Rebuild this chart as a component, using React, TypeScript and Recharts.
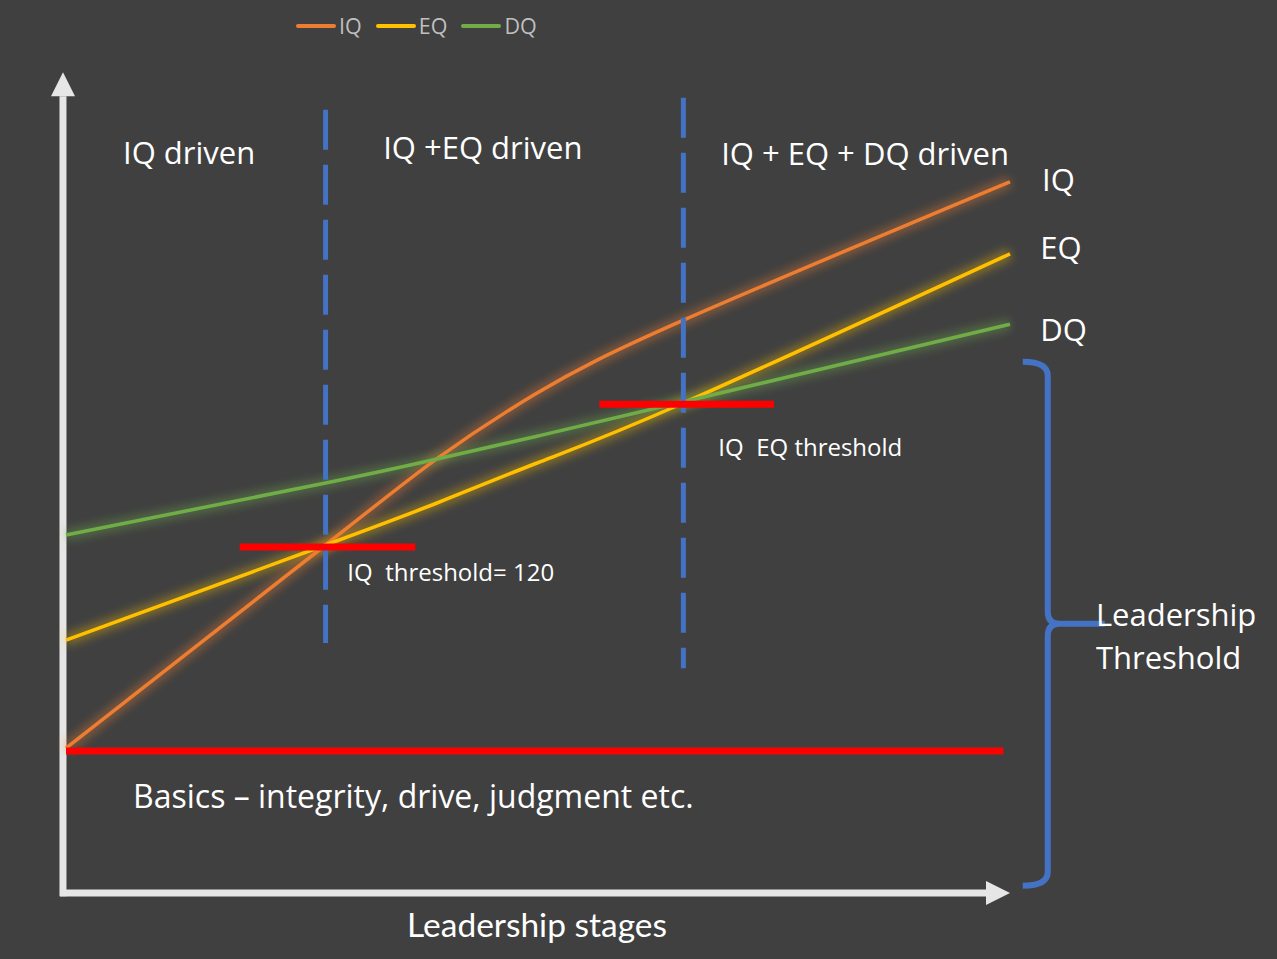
import { LineChart, Line, XAxis, YAxis, ReferenceLine, ReferenceDot, Legend } from "recharts";

// stage positions along the x axis (0 = start, 100 = end of the arrow)
const stages = [0, 27.5, 39.3, 49.9, 65.4, 100];
const iqValues = [18.1, 43.5, 54.3, 62.5, 71.6, 88.9];
const eqValues = [31.6, 43.5, 48.75, 53.75, 61.25, 79.9];
const dqValues = [44.75, 51.25, 54.25, 57.1, 61.4, 71.1];

const seriesNames = ["IQ", "EQ", "DQ"];
const seriesColors = ["#ED7D31", "#FFC000", "#70AD47"];

// phase boundaries (dashed blue)
const phaseX = [27.5, 65.4];
const phaseTop = [97.9, 99.4];
const phaseBottom = [31.25, 28.1];

// red threshold bars
const thresholdStart = [18.4, 56.5];
const thresholdEnd = [37.0, 75.0];
const thresholdLevel = [43.25, 61.1];

const basicsLevel = 17.75;
const basicsEnd = 99.3;

// annotations
const noteTexts = [
  "IQ driven",
  "IQ +EQ driven",
  "IQ + EQ + DQ driven",
  "IQ",
  "EQ",
  "DQ",
  "IQ\u00A0 threshold= 120",
  "IQ\u00A0 EQ threshold",
  "Basics \u2013 integrity, drive, judgment etc.",
  "Leadership",
  "Threshold",
];
const noteX = [6.04, 33.6, 69.4, 103.4, 103.2, 103.2, 29.8, 69.1, 7.1, 109.1, 109.1];
const noteY = [92.5, 93.1, 92.4, 89.1, 80.6, 70.4, 40.1, 55.75, 12.0, 34.75, 29.4];
const noteSizes = [31, 31, 31, 31, 31, 31, 24, 24, 32, 31, 31];

const data = stages.map((s, i) => ({
  stage: s,
  IQ: iqValues[i],
  EQ: eqValues[i],
  DQ: dqValues[i],
}));

const FONT = '"Open Sans", sans-serif';
const AXIS = "#E7E6E6";
const BLUE = "#4472C4";

function arrowShape(props: any) {
  const { x1, y1, x2, y2 } = props;
  const dx = x2 - x1;
  const dy = y2 - y1;
  const len = Math.hypot(dx, dy) || 1;
  const ux = dx / len;
  const uy = dy / len;
  const head = 24;
  const half = 12;
  const bx = x2 - ux * head;
  const by = y2 - uy * head;
  const px = -uy;
  const py = ux;
  return (
    <g>
      <line x1={x1} y1={y1} x2={bx} y2={by} stroke={AXIS} strokeWidth={7} />
      <polygon
        points={`${x2},${y2} ${bx + px * half},${by + py * half} ${bx - px * half},${by - py * half}`}
        fill={AXIS}
      />
    </g>
  );
}

function braceShape(props: any) {
  const { x1, y1, y2 } = props;
  const top = Math.min(y1, y2);
  const bot = Math.max(y1, y2);
  const mid = (top + bot) / 2;
  const d =
    `M ${x1 - 25} ${top} Q ${x1} ${top} ${x1} ${top + 14} L ${x1} ${mid - 12} ` +
    `Q ${x1} ${mid} ${x1 + 12} ${mid} L ${x1 + 57} ${mid} M ${x1 + 12} ${mid} ` +
    `Q ${x1} ${mid} ${x1} ${mid + 12} L ${x1} ${bot - 14} Q ${x1} ${bot} ${x1 - 25} ${bot}`;
  return <path d={d} fill="none" stroke={BLUE} strokeWidth={6} />;
}

function LegendContent(props: any) {
  const items = (props.payload || [])
    .filter((p: any) => p.type !== "none")
    .sort((a: any, b: any) => seriesNames.indexOf(a.value) - seriesNames.indexOf(b.value));
  return (
    <div style={{ display: "flex", alignItems: "center", fontFamily: FONT, fontSize: 21.5, color: "#BFBFBF" }}>
      {items.map((p: any) => (
        <div key={p.value} style={{ display: "flex", alignItems: "center", marginRight: 14 }}>
          <span style={{ display: "inline-block", width: 40, height: 4, borderRadius: 2, background: p.color, marginRight: 3 }} />
          <span>{p.value}</span>
        </div>
      ))}
    </div>
  );
}

export default function App() {
  return (
    <div style={{ position: "absolute", left: 0, top: 0, width: 1277, height: 959, background: "#404040", overflow: "hidden" }}>
      <LineChart width={1277} height={959} data={data} margin={{ top: 93, right: 267, bottom: 66, left: 66 }}>
        <defs>
          <filter id="glow" x="-20%" y="-20%" width="140%" height="140%">
            <feGaussianBlur stdDeviation="4" />
          </filter>
        </defs>
        <XAxis dataKey="stage" type="number" domain={[0, 100]} hide />
        <YAxis type="number" domain={[0, 100]} hide />
        <Legend
          verticalAlign="middle"
          align="center"
          layout="horizontal"
          wrapperStyle={{ top: 11, left: 296, width: 320 }}
          content={<LegendContent />}
        />

        {/* axes as arrows */}
        <ReferenceLine segment={[{ x: -0.32, y: -0.4 }, { x: -0.32, y: 102.6 }]} ifOverflow="visible" shape={arrowShape} />
        <ReferenceLine segment={[{ x: -0.64, y: 0 }, { x: 100, y: 0 }]} ifOverflow="visible" shape={arrowShape} />

        {/* glow under the curves */}
        {seriesNames.map((name, i) => (
          <Line
            key={`glow-${name}`}
            type="natural"
            dataKey={name}
            stroke={seriesColors[i]}
            strokeWidth={12}
            strokeOpacity={0.35}
            filter="url(#glow)"
            dot={false}
            activeDot={false}
            legendType="none"
            isAnimationActive={false}
          />
        ))}
        {seriesNames.map((name, i) => (
          <Line
            key={name}
            type="natural"
            dataKey={name}
            name={name}
            stroke={seriesColors[i]}
            strokeWidth={3.5}
            dot={false}
            activeDot={false}
            isAnimationActive={false}
          />
        ))}

        {phaseX.map((x, i) => (
          <ReferenceLine
            key={`phase-${i}`}
            segment={[{ x, y: phaseTop[i] }, { x, y: phaseBottom[i] }]}
            stroke={BLUE}
            strokeWidth={5}
            strokeDasharray="40 15"
            ifOverflow="visible"
          />
        ))}

        {thresholdLevel.map((y, i) => (
          <ReferenceLine
            key={`thr-${i}`}
            segment={[{ x: thresholdStart[i], y }, { x: thresholdEnd[i], y }]}
            stroke="#FF0000"
            strokeWidth={7}
            ifOverflow="visible"
          />
        ))}
        <ReferenceLine
          segment={[{ x: 0, y: basicsLevel }, { x: basicsEnd, y: basicsLevel }]}
          stroke="#FF0000"
          strokeWidth={7}
          ifOverflow="visible"
        />

        {noteTexts.map((t, i) => (
          <ReferenceDot
            key={`note-${i}`}
            x={noteX[i]}
            y={noteY[i]}
            r={0}
            fill="none"
            stroke="none"
            ifOverflow="visible"
            label={{ value: t, position: "right", offset: 0, fill: "#FFFFFF", fontSize: noteSizes[i], fontFamily: FONT }}
          />
        ))}
        <ReferenceDot
          x={49.9}
          y={-4}
          r={0}
          fill="none"
          stroke="none"
          ifOverflow="visible"
          label={{ value: "Leadership stages", position: "center", fill: "#FFFFFF", fontSize: 33.5, fontFamily: "Lato, sans-serif" }}
        />

        <ReferenceLine segment={[{ x: 104.0, y: 66.4 }, { x: 104.0, y: 0.9 }]} ifOverflow="visible" shape={braceShape} />
      </LineChart>
    </div>
  );
}
